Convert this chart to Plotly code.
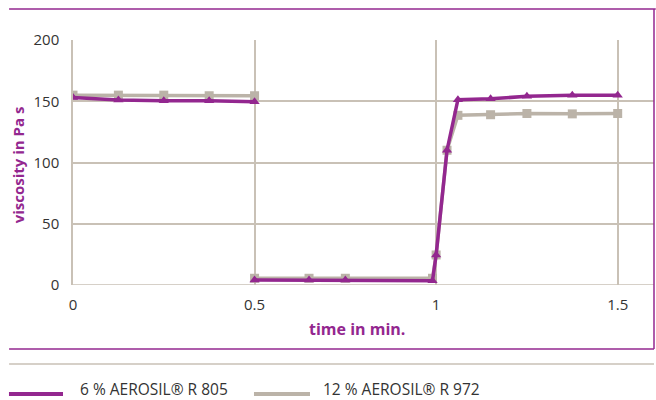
import plotly.graph_objects as go

time_min = [0, 0.125, 0.25, 0.375, 0.5, None, 0.5, 0.65, 0.75, 0.99, 1.0, 1.03, 1.06, 1.15, 1.25, 1.375, 1.5]
r805 = [153, 151, 150.5, 150.5, 149.5, None, 4, 4, 4, 3.5, 24.5, 110, 151.3, 152, 154, 155, 155]
r972 = [155, 155, 155, 154.5, 154.5, None, 5.5, 5.5, 5.5, 5.5, 24.5, 110, 138.5, 139, 140, 139.7, 140]
series_names = ["6 % AEROSIL® R 805", "12 % AEROSIL® R 972"]
x_ticks = [0, 0.5, 1, 1.5]
x_tick_labels = ["0", "0.5", "1", "1.5"]
y_ticks = [0, 50, 100, 150, 200]

PURPLE = "#93278F"
GRAY = "#BBB3A8"
GRID = "#C9C1B6"
FONT = "Open Sans"

fig = go.Figure()
fig.add_trace(go.Scatter(x=time_min, y=r972, mode="lines+markers", name=series_names[1],
                         line=dict(color=GRAY, width=3.5), connectgaps=False,
                         marker=dict(symbol="square", size=9, color=GRAY),
                         showlegend=False))
fig.add_trace(go.Scatter(x=time_min, y=r805, mode="lines+markers", name=series_names[0],
                         line=dict(color=PURPLE, width=3.5), connectgaps=False,
                         marker=dict(symbol="triangle-up", size=9, color=PURPLE),
                         showlegend=False))

# legend drawn below the frame (line sample + label)
legend_y = -0.4449
legend_text_y = -0.4245
legend_items = [
    (series_names[0], PURPLE, -0.1102, -0.0172, 0.0103),
    (series_names[1], GRAY, 0.3115, 0.4079, 0.4286),
]
shapes = [
    dict(type="line", xref="paper", yref="paper", x0=-0.110, x1=1.003, y0=1.1265, y1=1.1265,
         line=dict(color=PURPLE, width=1.5)),
    dict(type="line", xref="paper", yref="paper", x0=1.0, x1=1.0, y0=1.1265, y1=-0.2612,
         line=dict(color=PURPLE, width=1.5)),
    dict(type="line", xref="paper", yref="paper", x0=-0.110, x1=1.0, y0=-0.2612, y1=-0.2612,
         line=dict(color=PURPLE, width=1.5)),
    dict(type="line", xref="paper", yref="paper", x0=-0.110, x1=1.0, y0=-0.3224, y1=-0.3224,
         line=dict(color=GRID, width=1.5)),
    dict(type="line", xref="paper", yref="y", x0=0, x1=1, y0=0, y1=0,
         line=dict(color=GRID, width=1.5), layer="below"),
]
annotations = [
    dict(text="<b>time in min.</b>", xref="paper", yref="paper", x=0.489, y=-0.1796,
         xanchor="center", yanchor="middle",
         showarrow=False, font=dict(color=PURPLE, size=16, family=FONT)),
    dict(text="<b>viscosity in Pa s</b>", xref="paper", yref="paper", x=-0.094, y=0.49,
         xanchor="center", yanchor="middle",
         textangle=-90, showarrow=False, font=dict(color=PURPLE, size=15, family=FONT)),
]
for name, color, lx0, lx1, tx in legend_items:
    shapes.append(dict(type="line", xref="paper", yref="paper", x0=lx0, x1=lx1,
                       y0=legend_y, y1=legend_y, line=dict(color=color, width=4)))
    annotations.append(dict(text=name, xref="paper", yref="paper", x=tx, y=legend_text_y,
                            xanchor="left", yanchor="middle", showarrow=False, borderpad=0,
                            font=dict(size=15.5, color="#333333", family=FONT)))

fig.update_layout(
    width=656, height=400,
    margin=dict(l=73, r=2, t=40, b=115, autoexpand=False),
    paper_bgcolor="white", plot_bgcolor="white",
    font=dict(family=FONT, size=15, color="#333333"),
    showlegend=False,
    xaxis=dict(range=[0, 1.6], tickvals=x_ticks, ticktext=x_tick_labels,
               showgrid=True, gridcolor=GRID, gridwidth=1.5, automargin=False,
               showline=False, zeroline=False, ticks="", ticklabelstandoff=9),
    yaxis=dict(range=[0, 200], tickvals=y_ticks, automargin=False,
               showgrid=True, gridcolor=GRID, gridwidth=1.5,
               showline=True, linecolor=GRID, linewidth=1.5,
               zeroline=False, ticks="", ticklabelstandoff=9),
    annotations=annotations,
    shapes=shapes,
)

fig.write_html("out.html", config={"displayModeBar": False},
               post_script="document.body.style.margin='0';")
